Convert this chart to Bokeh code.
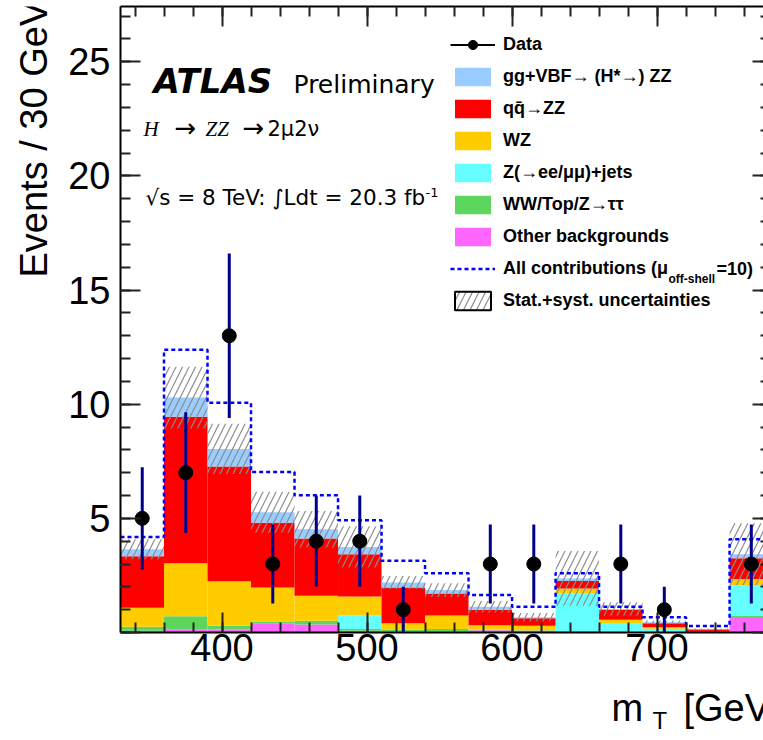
import numpy as np
from bokeh.plotting import figure
from bokeh.layouts import column, row
from bokeh.models import (ColumnDataSource, Range1d, LinearAxis, FixedTicker,
                          Label, Legend, LegendItem)
from bokeh.embed import file_html
from bokeh.resources import INLINE

# ---------------- data ----------------
bin_low = [330, 360, 390, 420, 450, 480, 510, 540, 570, 600, 630, 660, 690, 720, 750]
bin_width = 30
data_counts = [5, 7, 13, 3, 4, 4, 1, 0, 3, 3, 0, 3, 1, 0, 3]
other_bkg = [0.08, 0.12, 0.13, 0.41, 0.35, 0.08, 0.05, 0.05, 0.10, 0.08, 0.02, 0.02, 0.02, 0.00, 0.64]
ww_top_ztt = [0.17, 0.59, 0.17, 0.07, 0.17, 0.07, 0.08, 0.10, 0.02, 0.02, 0.03, 0.02, 0.02, 0.00, 0.10]
z_jets = [0.00, 0.00, 0.00, 0.00, 0.00, 0.59, 0.00, 0.00, 0.00, 0.00, 1.66, 0.38, 0.12, 0.01, 1.34]
wz = [0.83, 2.32, 1.94, 1.49, 1.09, 0.84, 0.28, 0.59, 0.20, 0.20, 0.22, 0.14, 0.07, 0.02, 0.26]
qq_zz = [2.26, 6.42, 5.03, 2.84, 2.51, 1.85, 1.56, 0.97, 0.68, 0.32, 0.33, 0.43, 0.18, 0.10, 0.91]
gg_vbf = [0.31, 0.84, 0.77, 0.46, 0.40, 0.32, 0.22, 0.15, 0.13, 0.05, 0.11, 0.04, 0.04, 0.01, 0.18]
syst_unc = [0.44, 1.35, 1.10, 0.90, 0.80, 0.90, 0.28, 0.30, 0.25, 0.18, 1.20, 0.30, 0.08, 0.04, 1.35]
all_mu10 = [4.18, 12.38, 10.06, 7.03, 6.01, 4.92, 3.14, 2.60, 1.64, 1.13, 2.60, 1.13, 0.67, 0.28, 4.08]

x_major = [400, 500, 600, 700]
y_major = [0, 5, 10, 15, 20, 25]

# ---------------- derived ----------------
lo = np.array(bin_low, dtype=float)
hi = lo + bin_width
centers = lo + bin_width / 2
stack_names = ["other", "ww", "zjets", "wz", "qq", "gg"]
src = ColumnDataSource(dict(x=centers, other=other_bkg, ww=ww_top_ztt, zjets=z_jets,
                            wz=wz, qq=qq_zz, gg=gg_vbf))
total = np.array(other_bkg) + np.array(ww_top_ztt) + np.array(z_jets) + np.array(wz) \
    + np.array(qq_zz) + np.array(gg_vbf)
syst = np.array(syst_unc)
edges = list(lo) + [hi[-1]]
step_y = list(all_mu10) + [all_mu10[-1]]
dc = np.array(data_counts, dtype=float)
mask = dc > 0
dx = centers[mask]
dy = dc[mask]
derr = np.sqrt(dy)

colors = ["#ff66ff", "#5cd65c", "#66ffff", "#ffcc00", "#ff0000", "#99ccff"]

FONT = "Liberation Sans"
W, H = 763, 740
LW = 56          # width of the strip holding the y-axis title
BH = 60          # height of the strip holding the x-axis title
MH = H - BH      # height of the main figure
FL, FB = 120, 632  # frame left / bottom in page pixels
BASE = 0.34      # label baseline correction (fraction of font size)
HATCH = dict(hatch_pattern="/", hatch_color="#8c8c8c", hatch_scale=13, hatch_weight=1.2)

p = figure(width=W - LW, height=MH, x_range=Range1d(330, 773.4), y_range=Range1d(0, 27.42),
           output_backend="svg", toolbar_location=None,
           min_border_left=FL - LW, min_border_right=0, min_border_top=6,
           min_border_bottom=MH - FB)
p.grid.visible = False
p.outline_line_color = None
p.background_fill_color = "white"
p.border_fill_color = "white"

stack_r = p.vbar_stack(stack_names, x="x", width=bin_width, source=src,
                       fill_color=colors, line_color=None)

band = p.quad(left=lo, right=hi, bottom=total - syst, top=total + syst,
              fill_color=None, line_color=None, **HATCH)

step_r = p.step(x=edges, y=step_y, mode="after", line_color="#0000ff",
                line_width=2.5, line_dash="4 3")

p.segment(x0=dx, y0=dy - derr, x1=dx, y1=dy + derr, line_color="#00008b", line_width=3)
data_r = p.scatter(x=dx, y=dy, size=14, fill_color="black", line_color="black")

# legend-only (hidden) renderers
leg_line = p.line(x=dx, y=dy, line_color="black", line_width=2, visible=False)
leg_hatch = p.quad(left=lo, right=hi, bottom=total - syst, top=total + syst,
                   fill_color="white", line_color="black", line_width=2, visible=False,
                   **HATCH)

# ---------------- axes ----------------
xt = FixedTicker(ticks=x_major, minor_ticks=list(range(340, 781, 20)))
yt = FixedTicker(ticks=y_major, minor_ticks=list(range(0, 28)))

for ax, tick in ((p.xaxis[0], xt), (p.yaxis[0], yt)):
    ax.ticker = tick
    ax.axis_line_width = 2
    ax.axis_line_color = "black"
    ax.major_tick_in = 20
    ax.major_tick_out = 0
    ax.minor_tick_in = 10
    ax.minor_tick_out = 0
    ax.major_tick_line_width = 2
    ax.minor_tick_line_width = 2
    ax.major_tick_line_color = "#222222"
    ax.minor_tick_line_color = "#222222"
    ax.major_label_text_font = FONT
    ax.major_label_text_font_size = "38px"
    ax.major_label_text_color = "black"
p.xaxis.major_label_standoff = 1
p.yaxis.major_label_standoff = 10
p.yaxis.major_label_overrides = {0: ""}

top_ax = LinearAxis(ticker=xt, major_tick_in=20, major_tick_out=0, minor_tick_in=10,
                    minor_tick_out=0, axis_line_width=2, major_tick_line_width=2,
                    minor_tick_line_width=2, major_tick_line_color="#222222",
                    minor_tick_line_color="#222222",
                    major_label_text_font_size="0px", major_label_standoff=0)
p.add_layout(top_ax, "above")
right_ax = LinearAxis(ticker=yt, major_tick_in=11, major_tick_out=0, minor_tick_in=3,
                      minor_tick_out=0, axis_line_color=None, major_tick_line_width=2,
                      minor_tick_line_width=2, major_tick_line_color="#222222",
                      minor_tick_line_color="#222222",
                      major_label_text_font_size="0px", major_label_standoff=0)
p.add_layout(right_ax, "right")

# ---------------- legend ----------------
legend = Legend(items=[
    LegendItem(label="Data", renderers=[leg_line, data_r]),
    LegendItem(label="gg+VBF\u2192 (H*\u2192) ZZ", renderers=[stack_r[5]]),
    LegendItem(label="qq\u0304\u2192ZZ", renderers=[stack_r[4]]),
    LegendItem(label="WZ", renderers=[stack_r[3]]),
    LegendItem(label="Z(\u2192ee/\u03bc\u03bc)+jets", renderers=[stack_r[2]]),
    LegendItem(label="WW/Top/Z\u2192\u03c4\u03c4", renderers=[stack_r[1]]),
    LegendItem(label="Other backgrounds", renderers=[stack_r[0]]),
    LegendItem(label="All contributions (\u03bc", renderers=[step_r]),
    LegendItem(label="Stat.+syst. uncertainties", renderers=[leg_hatch]),
], location=(330, 320), orientation="vertical", glyph_width=45, glyph_height=23,
    spacing=9, padding=0, margin=0, label_standoff=8, border_line_color=None,
    background_fill_alpha=0, label_text_font=FONT, label_text_font_style="bold",
    label_text_font_size="18px", label_text_color="black")
p.add_layout(legend)


def lab(fig, text, x, y_from_bottom, size, font=FONT, style="normal", **kw):
    """Label whose alphabetic baseline lies y_from_bottom px above the frame bottom."""
    fs = float(size.replace("px", ""))
    fig.add_layout(Label(x=x, y=y_from_bottom + BASE * fs, x_units="screen",
                         y_units="screen", text=text, text_font=font, text_font_size=size,
                         text_font_style=style, text_color="black",
                         text_baseline="alphabetic", **kw))


def plab(text, x, y, size, **kw):
    # x, y: page pixels of the text start / baseline
    lab(p, text, x - FL, FB - y, size, **kw)


plab("off-shell", 668, 283, "12px", style="bold")
plab("=10)", 716, 275, "18px", style="bold")

plab("ATLAS", 153, 92, "34px", font="DejaVu Sans", style="bold italic")
plab("Preliminary", 293, 92, "25px", font="DejaVu Sans")
plab("H", 143, 136, "21px", font="Liberation Serif", style="italic")
plab("\u2192", 174, 136, "26px", font="DejaVu Sans")
plab("ZZ", 205, 136, "21px", font="Liberation Serif", style="italic")
plab("\u2192", 242, 136, "26px", font="DejaVu Sans")
plab("2\u03bc2\u03bd", 267, 136, "21px", font="DejaVu Sans")
plab("\u221as = 8 TeV: \u222bLdt = 20.3 fb", 145, 204, "21.5px", font="DejaVu Sans")
plab("-1", 425, 196, "13px", font="DejaVu Sans")


def strip(width, height):
    f = figure(width=width, height=height, output_backend="svg", toolbar_location=None,
               x_axis_type=None, y_axis_type=None, min_border=0, min_border_left=0,
               min_border_right=0, min_border_top=0, min_border_bottom=0,
               x_range=Range1d(0, 1), y_range=Range1d(0, 1))
    f.outline_line_color = None
    f.grid.visible = False
    f.background_fill_color = "white"
    f.border_fill_color = "white"
    return f


# y-axis title strip: its frame lines up with the main frame (page y 6..632)
p_left = strip(LW, MH)
p_left.add_layout(Label(x=46 - BASE * 38, y=FB - 277, x_units="screen", y_units="screen",
                        text="Events / 30 GeV", text_font=FONT, text_font_size="38px",
                        text_color="black", text_baseline="alphabetic", text_align="left",
                        angle=np.pi / 2))

# x-axis title strip (page y MH..H)
p_bot = strip(W, BH)
lab(p_bot, "m", 611, H - 720, "38px")
lab(p_bot, "T", 652, H - 728, "24px")
lab(p_bot, "[GeV]", 683, H - 720, "38px")

layout = column(row(p_left, p, spacing=0), p_bot, spacing=0)
open("out.html", "w").write(file_html(layout, INLINE))
